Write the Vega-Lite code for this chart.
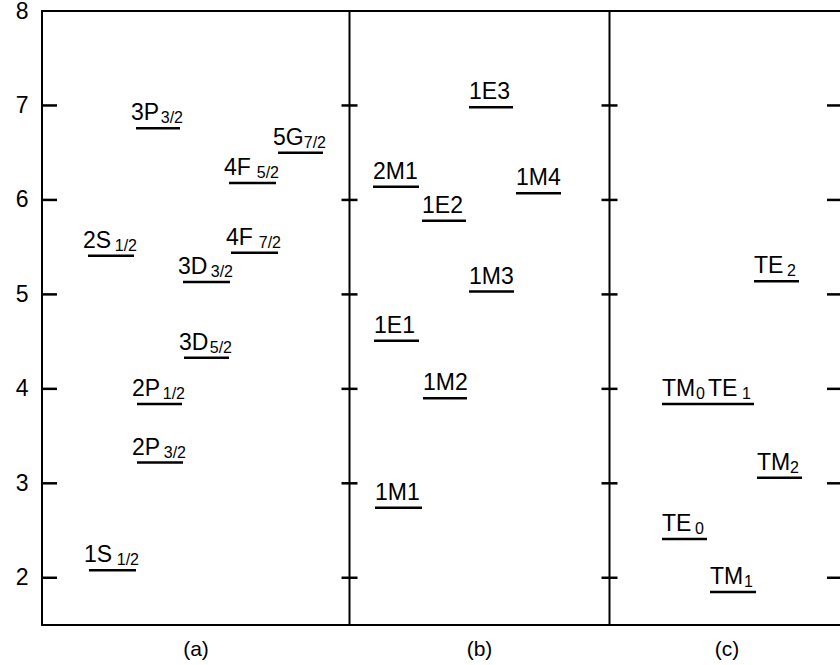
{
  "$schema": "https://vega.github.io/schema/vega-lite/v6.json",
  "width": 800,
  "height": 614,
  "autosize": "none",
  "padding": {"left": 42, "top": 11, "right": 0, "bottom": 40},
  "background": "white",
  "config": {
    "view": {"stroke": "black", "strokeWidth": 2},
    "font": "Liberation Sans",
    "axis": {"zindex": 1}
  },
  "datasets": {
    "levels": [
      {"panel": "a", "name": "3P", "sub": "3/2", "x1": 94, "x2": 138, "e": 6.76},
      {"panel": "a", "name": "5G", "sub": "7/2", "x1": 236, "x2": 281, "e": 6.50},
      {"panel": "a", "name": "4F", "sub": "5/2", "x1": 187, "x2": 234, "e": 6.18},
      {"panel": "a", "name": "2S", "sub": "1/2", "x1": 46, "x2": 92, "e": 5.41},
      {"panel": "a", "name": "4F", "sub": "7/2", "x1": 189, "x2": 236, "e": 5.44},
      {"panel": "a", "name": "3D", "sub": "3/2", "x1": 141, "x2": 188, "e": 5.13},
      {"panel": "a", "name": "3D", "sub": "5/2", "x1": 142, "x2": 187, "e": 4.33},
      {"panel": "a", "name": "2P", "sub": "1/2", "x1": 95, "x2": 140, "e": 3.84},
      {"panel": "a", "name": "2P", "sub": "3/2", "x1": 95, "x2": 141, "e": 3.22},
      {"panel": "a", "name": "1S", "sub": "1/2", "x1": 47, "x2": 94, "e": 2.08},
      {"panel": "b", "name": "1E3", "sub": "", "x1": 427, "x2": 471, "e": 6.98},
      {"panel": "b", "name": "2M1", "sub": "", "x1": 331, "x2": 377, "e": 6.14},
      {"panel": "b", "name": "1M4", "sub": "", "x1": 474, "x2": 519, "e": 6.07},
      {"panel": "b", "name": "1E2", "sub": "", "x1": 380, "x2": 424, "e": 5.78},
      {"panel": "b", "name": "1M3", "sub": "", "x1": 427, "x2": 472, "e": 5.03},
      {"panel": "b", "name": "1E1", "sub": "", "x1": 332, "x2": 377, "e": 4.51},
      {"panel": "b", "name": "1M2", "sub": "", "x1": 381, "x2": 425, "e": 3.90},
      {"panel": "b", "name": "1M1", "sub": "", "x1": 333, "x2": 380, "e": 2.74},
      {"panel": "c", "name": "TE", "sub": "2", "x1": 712, "x2": 757, "e": 5.14},
      {"panel": "c", "name": "TM", "sub": "0", "x1": 620, "x2": 666, "e": 3.84},
      {"panel": "c", "name": "TE", "sub": "1", "x1": 666, "x2": 712, "e": 3.84},
      {"panel": "c", "name": "TM", "sub": "2", "x1": 715, "x2": 760, "e": 3.06},
      {"panel": "c", "name": "TE", "sub": "0", "x1": 620, "x2": 665, "e": 2.41},
      {"panel": "c", "name": "TM", "sub": "1", "x1": 668, "x2": 714, "e": 1.85}
    ],
    "dividers": [{"x": 307.5}, {"x": 567.5}],
    "ticks": [
      {"x1": 1, "x2": 15, "e": 2}, {"x1": 1, "x2": 15, "e": 3}, {"x1": 1, "x2": 15, "e": 4},
      {"x1": 1, "x2": 15, "e": 5}, {"x1": 1, "x2": 15, "e": 6}, {"x1": 1, "x2": 15, "e": 7},
      {"x1": 299.5, "x2": 315.5, "e": 2}, {"x1": 299.5, "x2": 315.5, "e": 3}, {"x1": 299.5, "x2": 315.5, "e": 4},
      {"x1": 299.5, "x2": 315.5, "e": 5}, {"x1": 299.5, "x2": 315.5, "e": 6}, {"x1": 299.5, "x2": 315.5, "e": 7},
      {"x1": 559.5, "x2": 575.5, "e": 2}, {"x1": 559.5, "x2": 575.5, "e": 3}, {"x1": 559.5, "x2": 575.5, "e": 4},
      {"x1": 559.5, "x2": 575.5, "e": 5}, {"x1": 559.5, "x2": 575.5, "e": 6}, {"x1": 559.5, "x2": 575.5, "e": 7},
      {"x1": 785, "x2": 800, "e": 2}, {"x1": 785, "x2": 800, "e": 3}, {"x1": 785, "x2": 800, "e": 4},
      {"x1": 785, "x2": 800, "e": 5}, {"x1": 785, "x2": 800, "e": 6}, {"x1": 785, "x2": 800, "e": 7}
    ],
    "panels": [
      {"x": 154, "label": "(a)"},
      {"x": 437.5, "label": "(b)"},
      {"x": 685, "label": "(c)"}
    ]
  },
  "layer": [
    {
      "data": {"name": "dividers"},
      "mark": {"type": "rule", "color": "black", "strokeWidth": 2},
      "encoding": {
        "x": {"field": "x", "type": "quantitative", "scale": {"domain": [0, 800], "nice": false, "zero": false}, "axis": null}
      }
    },
    {
      "data": {"name": "levels"},
      "mark": {"type": "rule", "color": "black", "strokeWidth": 2.5},
      "encoding": {
        "x": {"field": "x1", "type": "quantitative", "scale": {"domain": [0, 800], "nice": false, "zero": false}, "axis": null},
        "x2": {"field": "x2"},
        "y": {"field": "e", "type": "quantitative", "scale": {"domain": [1.5, 8], "nice": false, "zero": false},
          "axis": {"values": [2, 3, 4, 5, 6, 7, 8], "title": null, "grid": false, "domain": false, "zindex": 1,
            "ticks": false, "labelPadding": 14, "labelFontSize": 23, "labelColor": "black", "labelFont": "Liberation Sans", "format": "d"}}
      }
    },
    {
      "data": {"name": "levels"},
      "transform": [{"filter": "datum.panel === 'a'"}],
      "mark": {"type": "text", "align": "left", "baseline": "alphabetic", "dx": -5, "dy": -8, "fontSize": 23, "color": "black"},
      "encoding": {
        "x": {"field": "x1", "type": "quantitative", "scale": {"domain": [0, 800], "nice": false, "zero": false}, "axis": null},
        "y": {"field": "e", "type": "quantitative", "scale": {"domain": [1.5, 8], "nice": false, "zero": false},
          "axis": {"values": [2, 3, 4, 5, 6, 7, 8], "title": null, "grid": false, "domain": false, "zindex": 1,
            "ticks": false, "labelPadding": 14, "labelFontSize": 23, "labelColor": "black", "labelFont": "Liberation Sans", "format": "d"}},
        "text": {"field": "name"}
      }
    },
    {
      "data": {"name": "levels"},
      "transform": [{"filter": "datum.panel === 'a'"}],
      "mark": {"type": "text", "align": "right", "baseline": "alphabetic", "dx": 3, "dy": -5, "fontSize": 16, "color": "black"},
      "encoding": {
        "x": {"field": "x2", "type": "quantitative", "scale": {"domain": [0, 800], "nice": false, "zero": false}, "axis": null},
        "y": {"field": "e", "type": "quantitative", "scale": {"domain": [1.5, 8], "nice": false, "zero": false},
          "axis": {"values": [2, 3, 4, 5, 6, 7, 8], "title": null, "grid": false, "domain": false, "zindex": 1,
            "ticks": false, "labelPadding": 14, "labelFontSize": 23, "labelColor": "black", "labelFont": "Liberation Sans", "format": "d"}},
        "text": {"field": "sub"}
      }
    },
    {
      "data": {"name": "levels"},
      "transform": [{"filter": "datum.panel === 'b'"}],
      "mark": {"type": "text", "align": "left", "baseline": "alphabetic", "dx": 0, "dy": -8, "fontSize": 23, "color": "black"},
      "encoding": {
        "x": {"field": "x1", "type": "quantitative", "scale": {"domain": [0, 800], "nice": false, "zero": false}, "axis": null},
        "y": {"field": "e", "type": "quantitative", "scale": {"domain": [1.5, 8], "nice": false, "zero": false},
          "axis": {"values": [2, 3, 4, 5, 6, 7, 8], "title": null, "grid": false, "domain": false, "zindex": 1,
            "ticks": false, "labelPadding": 14, "labelFontSize": 23, "labelColor": "black", "labelFont": "Liberation Sans", "format": "d"}},
        "text": {"field": "name"}
      }
    },
    {
      "data": {"name": "levels"},
      "transform": [{"filter": "datum.panel === 'c'"}],
      "mark": {"type": "text", "align": "left", "baseline": "alphabetic", "dx": 0, "dy": -8, "fontSize": 23, "color": "black"},
      "encoding": {
        "x": {"field": "x1", "type": "quantitative", "scale": {"domain": [0, 800], "nice": false, "zero": false}, "axis": null},
        "y": {"field": "e", "type": "quantitative", "scale": {"domain": [1.5, 8], "nice": false, "zero": false},
          "axis": {"values": [2, 3, 4, 5, 6, 7, 8], "title": null, "grid": false, "domain": false, "zindex": 1,
            "ticks": false, "labelPadding": 14, "labelFontSize": 23, "labelColor": "black", "labelFont": "Liberation Sans", "format": "d"}},
        "text": {"field": "name"}
      }
    },
    {
      "data": {"name": "levels"},
      "transform": [{"filter": "datum.panel === 'c'"}],
      "mark": {"type": "text", "align": "right", "baseline": "alphabetic", "dx": -3, "dy": -5, "fontSize": 16, "color": "black"},
      "encoding": {
        "x": {"field": "x2", "type": "quantitative", "scale": {"domain": [0, 800], "nice": false, "zero": false}, "axis": null},
        "y": {"field": "e", "type": "quantitative", "scale": {"domain": [1.5, 8], "nice": false, "zero": false},
          "axis": {"values": [2, 3, 4, 5, 6, 7, 8], "title": null, "grid": false, "domain": false, "zindex": 1,
            "ticks": false, "labelPadding": 14, "labelFontSize": 23, "labelColor": "black", "labelFont": "Liberation Sans", "format": "d"}},
        "text": {"field": "sub"}
      }
    },
    {
      "data": {"name": "panels"},
      "mark": {"type": "text", "align": "center", "baseline": "middle", "dy": 25, "fontSize": 21, "color": "black"},
      "encoding": {
        "x": {"field": "x", "type": "quantitative", "scale": {"domain": [0, 800], "nice": false, "zero": false}, "axis": null},
        "y": {"datum": 1.5, "type": "quantitative", "scale": {"domain": [1.5, 8], "nice": false, "zero": false},
          "axis": {"values": [2, 3, 4, 5, 6, 7, 8], "title": null, "grid": false, "domain": false, "zindex": 1,
            "ticks": false, "labelPadding": 14, "labelFontSize": 23, "labelColor": "black", "labelFont": "Liberation Sans", "format": "d"}},
        "text": {"field": "label"}
      }
    },
    {
      "data": {"name": "ticks"},
      "mark": {"type": "rule", "color": "black", "strokeWidth": 2.5, "clip": false},
      "encoding": {
        "x": {"field": "x1", "type": "quantitative", "scale": {"domain": [0, 800], "nice": false, "zero": false}, "axis": null},
        "x2": {"field": "x2"},
        "y": {"field": "e", "type": "quantitative", "scale": {"domain": [1.5, 8], "nice": false, "zero": false},
          "axis": {"values": [2, 3, 4, 5, 6, 7, 8], "title": null, "grid": false, "domain": false, "zindex": 1,
            "ticks": false, "labelPadding": 14, "labelFontSize": 23, "labelColor": "black", "labelFont": "Liberation Sans", "format": "d"}}
      }
    }
  ]
}
